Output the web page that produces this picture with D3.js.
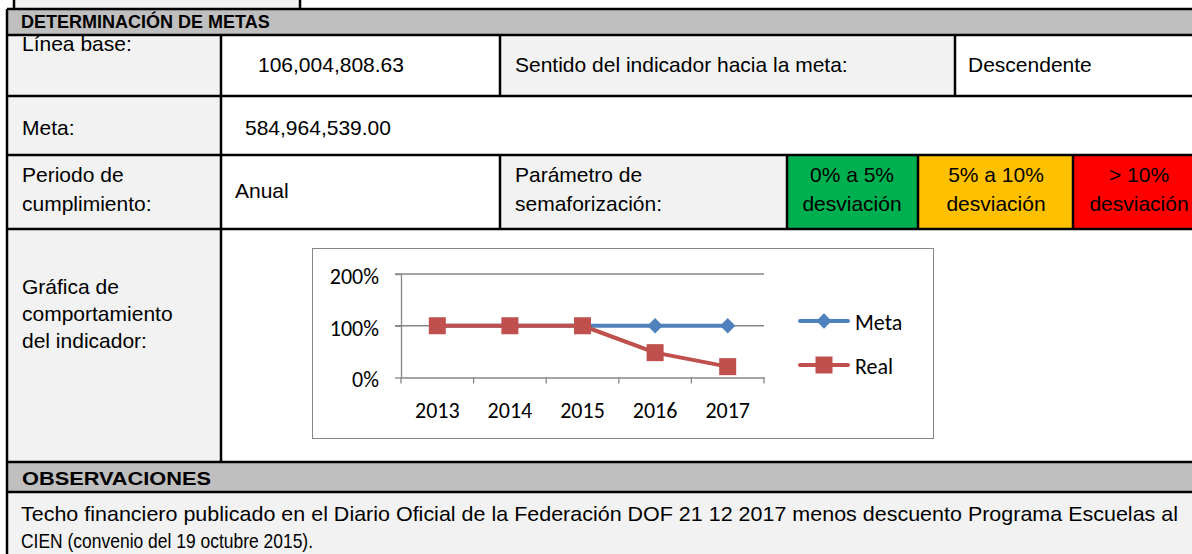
<!DOCTYPE html>
<html>
<head>
<meta charset="utf-8">
<script src="https://cdn.jsdelivr.net/npm/d3@7"></script>
<style>
  html, body { margin: 0; padding: 0; background: #fff; }
  svg { display: block; }
  .tbl { font-family: "Liberation Sans", Arial, sans-serif; font-size: 21px; fill: #000; }
  .chart { font-family: Carlito, Lato, "Open Sans", sans-serif; font-size: 22px; fill: #000; }
</style>
</head>
<body>
<svg id="page" width="1192" height="554"></svg>
<script>
// chart data
const years = ["2013", "2014", "2015", "2016", "2017"];
const metaValues = [100, 100, 100, 100, 100];
const realValues = [100, 100, 100, 48, 21];
const yTicks = [0, 100, 200];
const seriesNames = ["Meta", "Real"];

// table text
const header = "DETERMINACIÓN DE METAS";
const lineaBase = "106,004,808.63";
const metaText = "584,964,539.00";
const semaforo = [["0% a 5%", "desviación"], ["5% a 10%", "desviación"], ["> 10%", "desviación"]];
const semaforoColors = ["#00b050", "#ffc000", "#ff0000"];
const observaciones = [
  "Techo financiero publicado en el Diario Oficial de la Federación DOF 21 12 2017 menos descuento Programa Escuelas al",
  "CIEN (convenio del 19 octubre 2015)."
];

const svg = d3.select("#page");
const W = 1192;
const labelBg = "#f2f2f2", headBg = "#bfbfbf";

function cell(x0, y0, x1, y1, fill) {
  svg.append("rect").attr("x", x0).attr("y", y0)
    .attr("width", x1 - x0).attr("height", y1 - y0).attr("fill", fill);
}
function txt(x, y, s, opts = {}) {
  return svg.append("text").attr("class", "tbl").attr("x", x).attr("y", y)
    .attr("text-anchor", opts.anchor || "start")
    .attr("font-weight", opts.bold ? "bold" : null)
    .text(s);
}

// top leftover box
cell(13, 0, 300, 9, labelBg);
// header
cell(7, 9, W, 35, headBg);
// row 1
cell(7, 35, 221, 96, labelBg);
cell(221, 35, 500, 96, "#fff");
cell(500, 35, 955, 96, labelBg);
cell(955, 35, W, 96, "#fff");
// row 2
cell(7, 96, 221, 155, labelBg);
cell(221, 96, W, 155, "#fff");
// row 3
cell(7, 155, 221, 229, labelBg);
cell(221, 155, 500, 229, "#fff");
cell(500, 155, 787, 229, labelBg);
const semX = [787, 918, 1073, 1205];
semaforoColors.forEach((c, i) => cell(semX[i], 155, Math.min(semX[i + 1], W), 229, c));
// row 4
cell(7, 229, 221, 462, labelBg);
cell(221, 229, W, 462, "#fff");
// observaciones
cell(7, 462, W, 492, headBg);
cell(7, 492, W, 554, labelBg);

// borders
const lines = [
  [14, 0, 14, 9], [300, 0, 300, 9],
  [7, 9, W, 9], [7, 35, W, 35], [7, 96, W, 96], [7, 155, W, 155],
  [7, 229, W, 229], [7, 462, W, 462], [7, 492, W, 492],
  [7, 9, 7, 554],
  [221, 35, 221, 462], [500, 35, 500, 96], [955, 35, 955, 96],
  [500, 155, 500, 229], [787, 155, 787, 229], [918, 155, 918, 229], [1073, 155, 1073, 229]
];
svg.append("g").selectAll("line").data(lines).join("line")
  .attr("x1", d => d[0]).attr("y1", d => d[1]).attr("x2", d => d[2]).attr("y2", d => d[3])
  .attr("stroke", "#000").attr("stroke-width", 2.5);

// table text
txt(21, 28, header, { bold: true }).style("font-size", "18px");
txt(22, 51, "Línea base:");
txt(258, 72, lineaBase);
txt(515, 72, "Sentido del indicador hacia la meta:");
txt(968, 72, "Descendente");
txt(22, 135, "Meta:");
txt(245, 135, metaText);
txt(22, 182, "Periodo de");
txt(22, 211, "cumplimiento:");
txt(235, 198, "Anual");
txt(515, 182, "Parámetro de");
txt(515, 211, "semaforización:");
const semCenters = [852, 996, 1139];
semaforo.forEach((s, i) => {
  txt(semCenters[i], 182, s[0], { anchor: "middle" });
  txt(semCenters[i], 211, s[1], { anchor: "middle" });
});
txt(22, 294, "Gráfica de");
txt(22, 321, "comportamiento");
txt(22, 348, "del indicador:");
txt(22, 485, "OBSERVACIONES", { bold: true })
  .style("font-size", "19px").attr("textLength", 189).attr("lengthAdjust", "spacingAndGlyphs");
const obsWidths = [1157, 292];
observaciones.forEach((s, i) => {
  txt(21, 521 + i * 27, s)
    .attr("textLength", obsWidths[i]).attr("lengthAdjust", "spacingAndGlyphs");
});

// ---- chart ----
svg.append("rect").attr("x", 312.5).attr("y", 248.5).attr("width", 621).attr("height", 190)
  .attr("fill", "#fff").attr("stroke", "#868686").attr("stroke-width", 1);

const plot = { left: 401, right: 764, top: 274, bottom: 377.5 };
const x = d3.scaleBand().domain(years).range([plot.left, plot.right]);
const y = d3.scaleLinear().domain([0, 200]).range([plot.bottom, plot.top]);
const axisColor = "#868686";

const g = svg.append("g");
// gridlines
g.selectAll("line.grid").data(yTicks.filter(d => d > 0)).join("line")
  .attr("x1", plot.left - 6).attr("x2", plot.right)
  .attr("y1", d => y(d)).attr("y2", d => y(d))
  .attr("stroke", axisColor).attr("stroke-width", 1.3);

// y axis
const yAxis = g.append("g").attr("transform", `translate(${plot.left},0)`)
  .call(d3.axisLeft(y).tickValues(yTicks).tickFormat(d => d + "%").tickSize(6).tickSizeOuter(0).tickPadding(16));
yAxis.attr("font-size", null).attr("font-family", null);
yAxis.select(".domain").attr("stroke", axisColor).attr("stroke-width", 1.3);
yAxis.selectAll(".tick line").attr("stroke", axisColor).attr("stroke-width", 1.3);
yAxis.selectAll("text").attr("class", "chart").attr("dy", "0.42em");

// x axis
const xAxis = g.append("g").attr("transform", `translate(0,${plot.bottom})`)
  .call(d3.axisBottom(x).tickSize(0).tickPadding(25));
xAxis.attr("font-size", null).attr("font-family", null);
xAxis.select(".domain").attr("stroke", axisColor).attr("stroke-width", 1.3);
xAxis.selectAll("text").attr("class", "chart");
// band boundary ticks
const bounds = years.map(d => x(d)).concat([plot.right]);
g.selectAll("line.xt").data(bounds).join("line")
  .attr("x1", d => d).attr("x2", d => d)
  .attr("y1", plot.bottom).attr("y2", plot.bottom + 6)
  .attr("stroke", axisColor).attr("stroke-width", 1.3);

const cx = d => x(d) + x.bandwidth() / 2;
const line = d3.line().x((d, i) => cx(years[i])).y(d => y(d));
const metaColor = "#4f81bd", realColor = "#c0504d";
const mk = 17;

g.append("path").datum(metaValues).attr("d", line)
  .attr("fill", "none").attr("stroke", metaColor).attr("stroke-width", 4).attr("stroke-linejoin", "round");
const diamond = d3.symbol().type(d3.symbolDiamond2).size(150);
g.selectAll("path.md").data(metaValues).join("path")
  .attr("d", diamond).attr("fill", metaColor)
  .attr("transform", (d, i) => `translate(${cx(years[i])},${y(d)})`);

g.append("path").datum(realValues).attr("d", line)
  .attr("fill", "none").attr("stroke", realColor).attr("stroke-width", 4).attr("stroke-linejoin", "round");
g.selectAll("rect.rs").data(realValues).join("rect")
  .attr("x", (d, i) => cx(years[i]) - mk / 2).attr("y", d => y(d) - mk / 2)
  .attr("width", mk).attr("height", mk).attr("fill", realColor);

// legend
const legend = g.append("g");
const legY = [321, 365];
const legColors = [metaColor, realColor];
seriesNames.forEach((name, i) => {
  legend.append("line").attr("x1", 800).attr("x2", 848).attr("y1", legY[i]).attr("y2", legY[i])
    .attr("stroke", legColors[i]).attr("stroke-width", 4).attr("stroke-linecap", "round");
  if (i === 0) {
    legend.append("path").attr("d", diamond).attr("fill", metaColor)
      .attr("transform", `translate(824,${legY[i]})`);
  } else {
    legend.append("rect").attr("x", 824 - mk / 2).attr("y", legY[i] - mk / 2)
      .attr("width", mk).attr("height", mk).attr("fill", realColor);
  }
  legend.append("text").attr("class", "chart").attr("x", 855).attr("y", legY[i] + 9).text(name);
});
</script>
</body>
</html>
